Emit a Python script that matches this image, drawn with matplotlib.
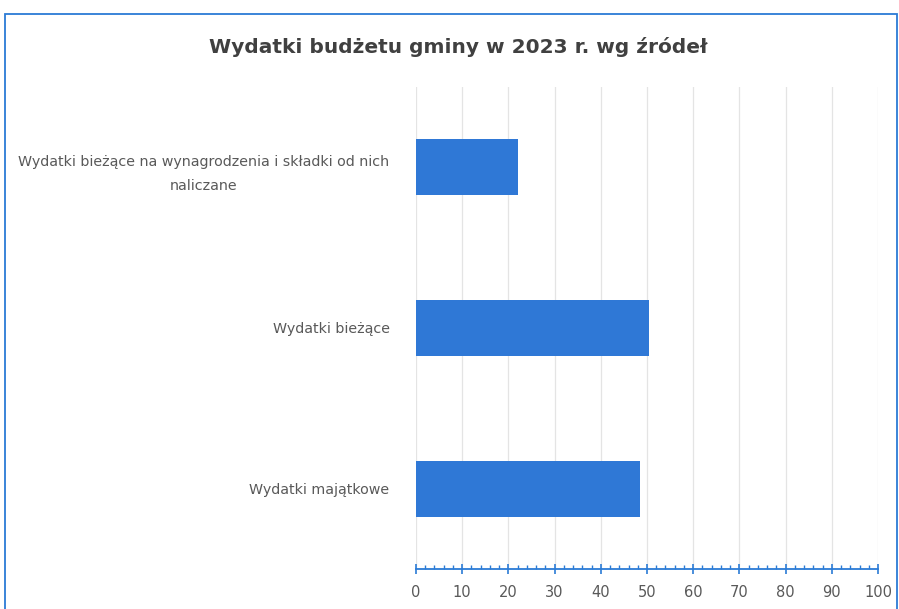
import matplotlib.pyplot as plt
from matplotlib.patches import Rectangle

categories = ['Wydatki bieżące na wynagrodzenia i składki od nich\nnaliczane',
              'Wydatki bieżące',
              'Wydatki majątkowe']
values = [22, 50.5, 48.5]
x_ticks = list(range(0, 101, 10))

bar_color = '#2f78d6'
axis_color = '#2b7bd6'
text_color = '#595959'

fig = plt.figure(figsize=(8.99, 6.09), dpi=100)
ax = fig.add_axes([416 / 899, 1 - 569 / 609, 462 / 899, 482 / 609])

# kategorie od góry do dołu
y_pos = [2, 1, 0]
ax.barh(y_pos, values, height=0.35, color=bar_color, zorder=3)

ax.set_xlim(0, 100)
ax.set_ylim(-0.5, 2.5)
ax.set_xticks(x_ticks)
ax.set_xticks(range(0, 101, 2), minor=True)
ax.set_yticks(y_pos)
ax.set_yticklabels(categories, multialignment='center', linespacing=1.9)

ax.grid(axis='x', color='#e4e4e4', linewidth=0.9, zorder=0)
for s in ['top', 'right', 'left']:
    ax.spines[s].set_visible(False)
ax.spines['bottom'].set_color(axis_color)
ax.spines['bottom'].set_linewidth(1.3)

ax.tick_params(axis='x', which='major', direction='inout', length=7, width=1.2,
               color=axis_color, labelcolor=text_color, labelsize=10.5, pad=8)
ax.tick_params(axis='x', which='minor', direction='in', length=3, width=1,
               color=axis_color)
ax.tick_params(axis='y', length=0, labelcolor=text_color, labelsize=10.3, pad=19)

fig.text(458 / 899, 1 - 47 / 609, 'Wydatki budżetu gminy w 2023 r. wg źródeł',
         ha='center', va='center', fontsize=14.5, fontweight='semibold', color='#404040')

# ramka wykresu
fig.patches.append(Rectangle((5 / 899, -0.05), 892 / 899, 1 - 14 / 609 + 0.05,
                             transform=fig.transFigure, fill=False,
                             edgecolor=axis_color, linewidth=1.3))

plt.savefig('out.png', dpi=100)
